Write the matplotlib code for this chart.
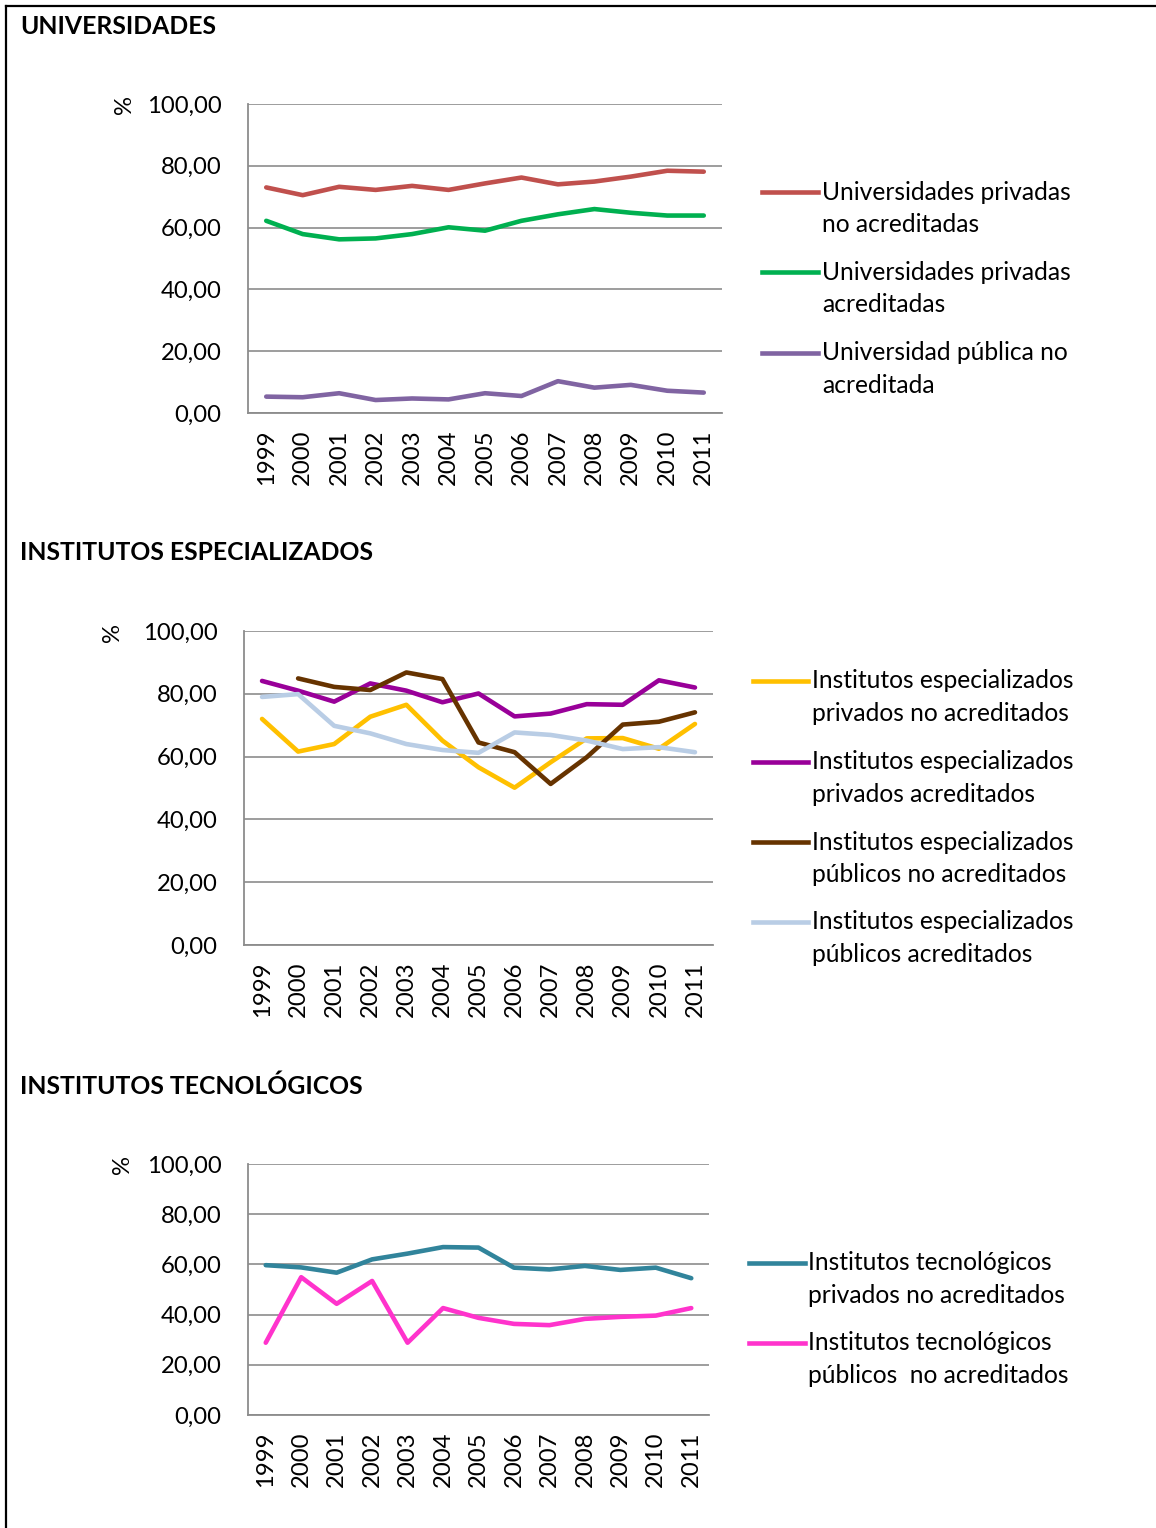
import matplotlib
matplotlib.use("Agg")
import matplotlib.pyplot as plt
from matplotlib.lines import Line2D
from matplotlib.ticker import FuncFormatter

plt.rcParams['font.family'] = ['Lato', 'DejaVu Sans']

years = ["1999", "2000", "2001", "2002", "2003", "2004", "2005",
         "2006", "2007", "2008", "2009", "2010", "2011"]
y_ticks = [0, 20, 40, 60, 80, 100]

# --- Universidades ---
univ_priv_no_acr = [73.0, 70.5, 73.2, 72.2, 73.5, 72.2, 74.3, 76.2, 74.0, 74.9, 76.5, 78.4, 78.1]
univ_priv_acr = [62.2, 57.9, 56.2, 56.5, 57.9, 60.1, 59.0, 62.2, 64.3, 66.0, 64.8, 63.9, 63.9]
univ_pub_no_acr = [5.3, 5.1, 6.4, 4.2, 4.7, 4.4, 6.4, 5.5, 10.3, 8.2, 9.1, 7.2, 6.6]

# --- Institutos especializados ---
ie_priv_no_acr = [72.0, 61.6, 64.0, 72.7, 76.5, 65.1, 56.6, 50.1, 58.2, 65.8, 65.9, 62.5, 70.4]
ie_priv_acr = [84.1, 81.0, 77.5, 83.3, 81.0, 77.3, 80.1, 72.8, 73.7, 76.7, 76.5, 84.3, 82.0]
ie_pub_no_acr = [None, 84.9, 82.2, 81.2, 86.8, 84.7, 64.5, 61.4, 51.3, 59.8, 70.2, 71.1, 74.1]
ie_pub_acr = [79.0, 79.9, 69.8, 67.4, 64.0, 62.1, 61.2, 67.7, 66.9, 65.1, 62.4, 63.0, 61.4]

# --- Institutos tecnologicos ---
it_priv_no_acr = [59.7, 58.8, 56.7, 62.0, 64.3, 66.9, 66.7, 58.7, 58.0, 59.4, 57.8, 58.7, 54.5]
it_pub_no_acr = [28.8, 54.9, 44.3, 53.4, 28.8, 42.6, 38.7, 36.3, 35.8, 38.3, 39.1, 39.6, 42.6]

W, H = 1156, 1528
fig = plt.figure(figsize=(W / 100, H / 100), dpi=100)
fig.patch.set_facecolor('white')

GRID = '#8c8c8c'
FS = 17.2
FS_LEG = 17.7
FS_TITLE = 17.8
LW = 3.3


def px_axes(l, t, r, b):
    return fig.add_axes([l / W, 1 - b / H, (r - l) / W, (b - t) / H])


def fmt(v, pos):
    return f"{v:.2f}".replace('.', ',')


def style(ax):
    ax.set_xlim(-0.5, len(years) - 0.5)
    ax.set_ylim(0, 100)
    ax.set_yticks(y_ticks)
    ax.yaxis.set_major_formatter(FuncFormatter(fmt))
    ax.set_xticks(range(len(years)))
    ax.set_xticklabels(years, rotation=90)
    for s in ['top', 'right']:
        ax.spines[s].set_visible(False)
    for s in ['left', 'bottom']:
        ax.spines[s].set_color(GRID)
        ax.spines[s].set_linewidth(1.3)
    ax.grid(axis='y', color=GRID, linewidth=1.2)
    ax.set_axisbelow(True)
    ax.tick_params(axis='both', length=0, labelsize=FS, colors='black')
    ax.tick_params(axis='y', pad=19)
    ax.tick_params(axis='x', pad=12)
    ax.set_facecolor('white')


def legend(entries, x0, x1, xt, ys):
    for (label, color), y in zip(entries, ys):
        fig.add_artist(Line2D([x0 / W, x1 / W], [1 - y / H, 1 - y / H],
                              color=color, linewidth=LW, transform=fig.transFigure))
        for i, line in enumerate(label.split('\n')):
            fig.text(xt / W, 1 - (y + 32.5 * i) / H, line, ha='left', va='center',
                     fontsize=FS_LEG, color='black', transform=fig.transFigure)


def title(txt, y):
    fig.text(20 / W, 1 - y / H, txt, ha='left', va='center', fontsize=FS_TITLE,
             fontweight='bold', color='black')


def pct(x, y):
    fig.text(x / W, 1 - y / H, '%', rotation=90, ha='center', va='center',
             fontsize=FS, color='black')


xs = list(range(len(years)))

# Chart 1
ax1 = px_axes(248, 104, 722, 413)
c1 = [("Universidades privadas\nno acreditadas", '#C0504D', univ_priv_no_acr),
      ("Universidades privadas\nacreditadas", '#00B050', univ_priv_acr),
      ("Universidad pública no\nacreditada", '#8064A2', univ_pub_no_acr)]
for lab, col, vals in c1:
    ax1.plot(xs, vals, color=col, linewidth=LW, solid_capstyle='round')
style(ax1)
title("UNIVERSIDADES", 26)
pct(125, 104)
legend([(l, c) for l, c, _ in c1], 762, 818, 822, [192, 272, 353])

# Chart 2
ax2 = px_axes(244, 631, 713, 945)
c2 = [("Institutos especializados\nprivados no acreditados", '#FFC000', ie_priv_no_acr),
      ("Institutos especializados\nprivados acreditados", '#990099', ie_priv_acr),
      ("Institutos especializados\npúblicos no acreditados", '#663300', ie_pub_no_acr),
      ("Institutos especializados\npúblicos acreditados", '#B9CDE5', ie_pub_acr)]
for lab, col, vals in c2:
    px = [x for x, v in zip(xs, vals) if v is not None]
    pv = [v for v in vals if v is not None]
    ax2.plot(px, pv, color=col, linewidth=LW, solid_capstyle='round')
style(ax2)
title("INSTITUTOS ESPECIALIZADOS", 553)
pct(113, 632)
legend([(l, c) for l, c, _ in c2], 753, 808, 812, [681, 762, 842, 922])

# Chart 3
ax3 = px_axes(248, 1164, 709, 1415)
c3 = [("Institutos tecnológicos\nprivados no acreditados", '#31849B', it_priv_no_acr),
      ("Institutos tecnológicos\npúblicos  no acreditados", '#FF33CC', it_pub_no_acr)]
for lab, col, vals in c3:
    ax3.plot(xs, vals, color=col, linewidth=LW, solid_capstyle='round')
style(ax3)
title("INSTITUTOS TECNOLÓGICOS", 1086)
pct(122, 1164)
legend([(l, c) for l, c, _ in c3], 749, 805, 808, [1263, 1343])

# Frame
fig.add_artist(Line2D([6 / W, 6 / W], [1 - 6 / H, 0], color='black', linewidth=1.6,
                      transform=fig.transFigure))
fig.add_artist(Line2D([6 / W, 1], [1 - 6 / H, 1 - 6 / H], color='black', linewidth=1.6,
                      transform=fig.transFigure))

fig.savefig("out.png", dpi=100, facecolor='white')
